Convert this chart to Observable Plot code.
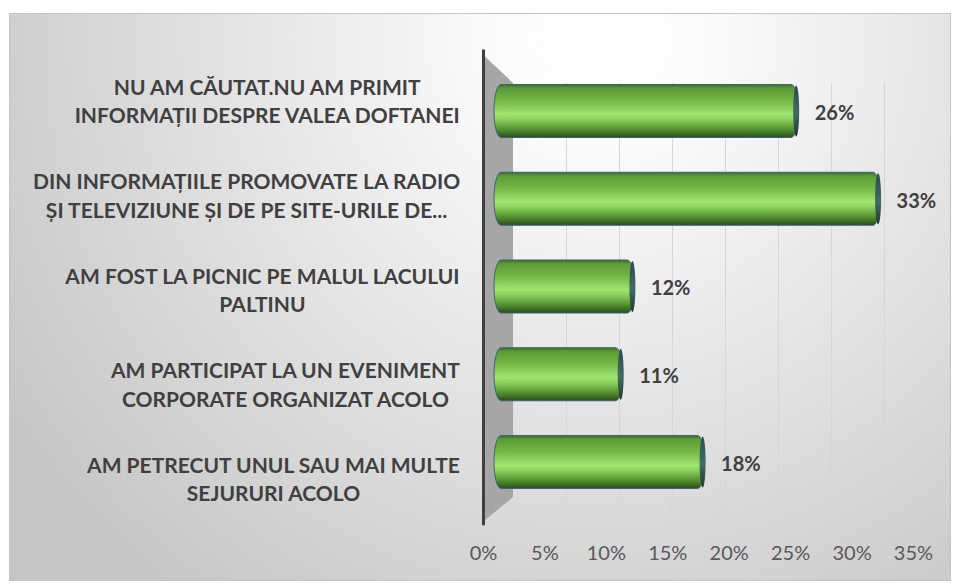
<!DOCTYPE html>
<html>
<head>
<meta charset="utf-8">
<script src="https://cdn.jsdelivr.net/npm/d3@7"></script>
<script src="https://cdn.jsdelivr.net/npm/@observablehq/plot@0.6"></script>
<style>
  html, body { margin: 0; padding: 0; background: #ffffff; }
  #chart svg { display: block; }
</style>
</head>
<body>
<div id="chart"></div>
<script>
// ---- data ----
const categories = [
  "NU AM CĂUTAT.NU AM PRIMIT\nINFORMAȚII DESPRE VALEA DOFTANEI",
  "DIN INFORMAȚIILE PROMOVATE LA RADIO\nȘI TELEVIZIUNE ȘI DE PE SITE-URILE DE...",
  "AM FOST LA PICNIC PE MALUL LACULUI\nPALTINU",
  "AM PARTICIPAT LA UN EVENIMENT\nCORPORATE ORGANIZAT ACOLO",
  "AM PETRECUT UNUL SAU MAI MULTE\nSEJURURI ACOLO"
];
const values = [26, 33, 12, 11, 18];
const tickValues = [0, 5, 10, 15, 20, 25, 30, 35];
const tickLabels = ["0%", "5%", "10%", "15%", "20%", "25%", "30%", "35%"];

// ---- 3D look: three depth planes expressed in data units of the bar plane ----
const front = { x0: -0.94, kx: 1.05, y0: -0.131, ky: 1.077, top: -0.64, bottom: 4.68, tickY: 5.04 };
const back  = { x0: 1.624, kx: 0.906, top: -0.32, bottom: 4.40 };
const fx = v => front.x0 + front.kx * v;
const bx = v => back.x0 + back.kx * v;

const xDomain = [0, 35], xRange = [494, 903.5];
const pxPerUnit = (xRange[1] - xRange[0]) / (xDomain[1] - xDomain[0]);

const bars = values.map((v, i) => ({ i, value: v, label: categories[i] }));

// category label layout: block right aligned near the wall, lines centred in block
const labelFont = "bold 21px Lato";
const ctx = document.createElement("canvas").getContext("2d");
ctx.font = labelFont;
const labelRight = fx(0) - 23 / pxPerUnit;
const labelData = bars.map(d => {
  const w = d3.max(d.label.split("\n"), s => ctx.measureText(s).width);
  return { ...d, lx: labelRight - (w / 2) / pxPerUnit, ly: front.y0 + front.ky * d.i };
});

const grid = tickValues.filter(v => v > 0).flatMap(v => [
  { v, x: bx(v), y: back.top },
  { v, x: bx(v), y: back.bottom },
  { v, x: fx(v), y: front.bottom }
]);
const wall = [
  { x: fx(0), y1: front.top, y2: front.bottom },
  { x: bx(0), y1: back.top, y2: back.bottom }
];

const defs = () => {
  const d = d3.create("svg:defs");
  const bg = d.append("radialGradient").attr("id", "bg")
    .attr("gradientUnits", "userSpaceOnUse")
    .attr("cx", 600).attr("cy", 40).attr("r", 700);
  [[0, "#ffffff"], [0.15, "#fbfbfb"], [1, "#c6c6c6"]].forEach(([o, c]) =>
    bg.append("stop").attr("offset", o).attr("stop-color", c));
  const cyl = d.append("linearGradient").attr("id", "cyl")
    .attr("x1", 0).attr("y1", 0).attr("x2", 0).attr("y2", 1);
  [[0, "#3c6a27"], [0.07, "#5c9c36"], [0.3, "#72b644"], [0.56, "#a2e472"],
   [0.66, "#8bd25c"], [0.86, "#4f8b2f"], [1, "#2a4e18"]].forEach(([o, c]) =>
    cyl.append("stop").attr("offset", o).attr("stop-color", c));
  const cap = d.append("linearGradient").attr("id", "cap")
    .attr("x1", 0).attr("y1", 0).attr("x2", 0).attr("y2", 1);
  [[0, "#2c4a52"], [0.55, "#3f6d66"], [1, "#21372c"]].forEach(([o, c]) =>
    cap.append("stop").attr("offset", o).attr("stop-color", c));
  return d.node();
};

const chart = Plot.plot({
  width: 958,
  height: 584,
  marginLeft: 9,
  marginRight: 8,
  marginTop: 13,
  marginBottom: 4,
  x: { domain: xDomain, range: xRange, axis: null },
  y: { domain: [0, 4], range: [111, 462], axis: null },
  style: { background: "transparent", fontFamily: "Lato, sans-serif" },
  marks: [
    defs,
    Plot.frame({ fill: "url(#bg)", stroke: "#c4c4c4" }),
    Plot.line(grid, { x: "x", y: "y", z: "v", stroke: "#d6d6d6", strokeWidth: 1 }),
    Plot.areaY(wall, { x: "x", y1: "y1", y2: "y2", fill: "#a6a6a6" }),
    Plot.ruleX([fx(0)], { y1: front.top - 0.06, y2: front.bottom + 0.04, stroke: "#404040", strokeWidth: 3 }),
    Plot.rect(bars, {
      x1: 0, x2: "value",
      y1: d => d.i - 0.302, y2: d => d.i + 0.302,
      fill: "url(#cyl)", stroke: "#3e6282", strokeWidth: 1, rx: 7, ry: 26
    }),
    Plot.rect(bars, {
      x1: "value", x2: "value",
      y1: d => d.i - 0.29, y2: d => d.i + 0.29,
      insetLeft: -5, insetRight: -1,
      fill: "url(#cap)", rx: 3, ry: 26
    }),
    Plot.text(bars, {
      x: "value", y: "i", text: d => d.value + "%",
      textAnchor: "start", dx: 16, dy: 2,
      fontSize: 20, fontWeight: "bold", fill: "#404040"
    }),
    Plot.text(labelData, {
      x: "lx", y: "ly", text: "label",
      textAnchor: "middle", lineHeight: 1.36,
      fontSize: 21, fontWeight: "bold", fill: "#404040"
    }),
    Plot.text(tickValues, {
      x: v => fx(v), y: () => front.tickY, text: (v, i) => tickLabels[i],
      textAnchor: "middle", fontSize: 20, fill: "#595959"
    })
  ]
});
document.getElementById("chart").append(chart);
</script>
</body>
</html>
